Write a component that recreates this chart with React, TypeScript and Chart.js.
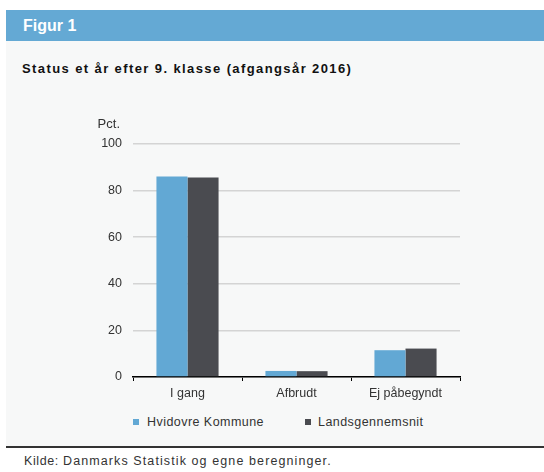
import React, { useEffect, useRef } from "react";
import { Chart, registerables } from "chart.js";

Chart.register(...registerables);

const categories = ["I gang", "Afbrudt", "Ej påbegyndt"];
const seriesNames = ["Hvidovre Kommune", "Landsgennemsnit"];
const hvidovre = [86.0, 2.6, 11.5];
const landsgennemsnit = [85.6, 2.5, 12.2];
const yTicks = [0, 20, 40, 60, 80, 100];
const colors = ["#62a8d4", "#4a4b50"];
const FONT = "'Liberation Sans', Arial, sans-serif";

const pctPlugin = {
  id: "pctLabel",
  afterDraw(chart: any) {
    const { ctx, chartArea } = chart;
    ctx.save();
    ctx.font = `13px ${FONT}`;
    ctx.fillStyle = "#333";
    ctx.textAlign = "right";
    ctx.textBaseline = "middle";
    ctx.fillText("Pct.", chartArea.left - 13, chartArea.top - 20);
    ctx.restore();
  },
};

function BarChart() {
  const ref = useRef<HTMLCanvasElement>(null);
  useEffect(() => {
    if (!ref.current) return;
    const chart = new Chart(ref.current, {
      type: "bar",
      data: {
        labels: categories,
        datasets: [
          { label: seriesNames[0], data: hvidovre, backgroundColor: colors[0], barPercentage: 1, categoryPercentage: 0.57 },
          { label: seriesNames[1], data: landsgennemsnit, backgroundColor: colors[1], barPercentage: 1, categoryPercentage: 0.57 },
        ],
      },
      options: {
        animation: false,
        responsive: false,
        maintainAspectRatio: false,
        layout: { padding: { top: 34, right: 10, left: 0, bottom: 0 } },
        plugins: { legend: { display: false }, tooltip: { enabled: false } },
        scales: {
          x: {
            grid: { display: true, drawOnChartArea: false, drawTicks: true, tickLength: 4, color: "#000", lineWidth: 1 },
            border: { display: true, color: "#000", width: 1.5 },
            ticks: { font: { family: FONT, size: 12.5 }, color: "#333", padding: 5 },
            afterFit: (s: any) => { s.height = 33; },
          },
          y: {
            min: 0,
            max: 100,
            afterBuildTicks: (s: any) => { s.ticks = yTicks.map((v) => ({ value: v })); },
            grid: { color: "#d4d4d4", lineWidth: 1.5, drawTicks: false },
            border: { display: false },
            ticks: { font: { family: FONT, size: 12.5 }, color: "#333", padding: 11 },
            afterFit: (s: any) => { s.width = 73; },
          },
        },
      },
      plugins: [pctPlugin],
    });
    return () => chart.destroy();
  }, []);
  return <canvas ref={ref} width={410} height={300} style={{ position: "absolute", left: 60, top: 110, width: 410, height: 300 }} />;
}

export default function App() {
  return (
    <div style={{ position: "absolute", left: 0, top: 0, width: 544, height: 472, background: "#fff", fontFamily: FONT, overflow: "hidden" }}>
      <div style={{ position: "absolute", left: 6, top: 10, width: 538, height: 31, background: "#64a9d4" }} />
      <div style={{ position: "absolute", left: 23, top: 16, color: "#fff", fontWeight: "bold", fontSize: 16, lineHeight: "20px" }}>Figur 1</div>
      <div style={{ position: "absolute", left: 6, top: 41, width: 538, height: 405, background: "#f7f8f8" }} />
      <div style={{ position: "absolute", left: 22, top: 61, color: "#111", fontWeight: "bold", fontSize: 13, lineHeight: "16px", letterSpacing: 1.4, whiteSpace: "nowrap" }}>
        Status et år efter 9. klasse (afgangsår 2016)
      </div>
      <BarChart />
      <div style={{ position: "absolute", left: 133, top: 419, width: 6, height: 6, background: colors[0] }} />
      <div style={{ position: "absolute", left: 147, top: 414, fontSize: 12.5, color: "#333", lineHeight: "16px", letterSpacing: 0.45, whiteSpace: "nowrap" }}>{seriesNames[0]}</div>
      <div style={{ position: "absolute", left: 305, top: 419, width: 6, height: 6, background: colors[1] }} />
      <div style={{ position: "absolute", left: 318, top: 414, fontSize: 12.5, color: "#333", lineHeight: "16px", letterSpacing: 0.45, whiteSpace: "nowrap" }}>{seriesNames[1]}</div>
      <div style={{ position: "absolute", left: 6, top: 446, width: 538, height: 2, background: "#333" }} />
      <div style={{ position: "absolute", left: 24, top: 453, fontSize: 12.5, color: "#333", lineHeight: "16px", letterSpacing: 0.6, whiteSpace: "nowrap" }}>Kilde:</div>
      <div style={{ position: "absolute", left: 63, top: 453, fontSize: 12.5, color: "#333", lineHeight: "16px", letterSpacing: 1.1, whiteSpace: "nowrap" }}>
        Danmarks Statistik og egne beregninger.
      </div>
    </div>
  );
}
